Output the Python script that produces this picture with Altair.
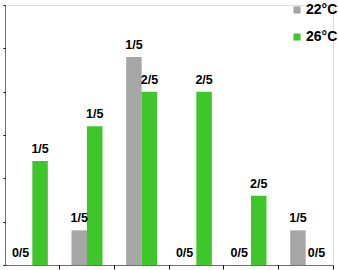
import altair as alt
import pandas as pd

categories = ["A", "B", "C", "D", "E", "F"]
series = ["22°C", "26°C"]
grey_values = [0, 0.8, 4.8, 0, 0, 0.8]
green_values = [2.4, 3.2, 4.0, 4.0, 1.6, 0]
grey_labels = ["0/5", "1/5", "1/5", "0/5", "0/5", "1/5"]
green_labels = ["1/5", "1/5", "2/5", "2/5", "2/5", "0/5"]
colors = ["#A6A6A6", "#3FC62B"]

rows = []
for c, v, l in zip(categories, grey_values, grey_labels):
    rows.append({"cat": c, "series": series[0], "value": v, "label": l})
for c, v, l in zip(categories, green_values, green_labels):
    rows.append({"cat": c, "series": series[1], "value": v, "label": l})
df = pd.DataFrame(rows)

x = alt.X("cat:N", sort=categories, title=None,
          scale=alt.Scale(paddingInner=0, paddingOuter=0),
          axis=alt.Axis(labels=False, bandPosition=1, tickSize=4, tickColor="black",
                        domainColor="black", domainDash=[1, 1], domainWidth=1,
                        tickWidth=1, grid=False))
xo = alt.XOffset("series:N", sort=series,
                 scale=alt.Scale(paddingInner=0, paddingOuter=0.765))
y = alt.Y("value:Q", title=None,
          scale=alt.Scale(domain=[0, 6], nice=False, zero=True),
          axis=alt.Axis(labels=False, values=[0, 1, 2, 3, 4, 5, 6], tickSize=2,
                        tickColor="black", domainColor="black", domainDash=[1, 1],
                        domainWidth=1, tickWidth=1, grid=False))
color = alt.Color("series:N", sort=series,
                  scale=alt.Scale(domain=series, range=colors),
                  legend=alt.Legend(title=None, orient="none", legendX=285, legendY=-2,
                                    symbolType="square", symbolSize=50, symbolStrokeWidth=0,
                                    labelFont="Liberation Sans", labelFontWeight="bold",
                                    labelFontSize=14, labelColor="black", labelOffset=2,
                                    rowPadding=13, padding=0))

base = alt.Chart(df)
bars = base.mark_bar(size=15.5).encode(x=x, xOffset=xo, y=y, color=color)

text_style = dict(font="Liberation Sans", fontWeight="bold", fontSize=12.5,
                  baseline="bottom", align="center", color="black")
labels = base.transform_filter("datum.value > 0").mark_text(dy=-5, **text_style).encode(
    x=x, xOffset=xo, y=y, text="label:N")
zero_grey = base.transform_filter("datum.value == 0 && datum.series == '22°C'").mark_text(
    dy=-5, dx=-4, **text_style).encode(x=x, xOffset=xo, y=y, text="label:N")
zero_green = base.transform_filter("datum.value == 0 && datum.series == '26°C'").mark_text(
    dy=-5, dx=3, **text_style).encode(x=x, xOffset=xo, y=y, text="label:N")

chart = alt.layer(bars, labels, zero_grey, zero_green).properties(
    width=328, height=260,
    autosize=alt.AutoSizeParams(type="none"),
    padding={"left": 5, "top": 5, "right": 5, "bottom": 5},
).configure_view(stroke=None).configure(background="white")

chart.save("out.html", embed_options={"renderer": "svg", "actions": False})
